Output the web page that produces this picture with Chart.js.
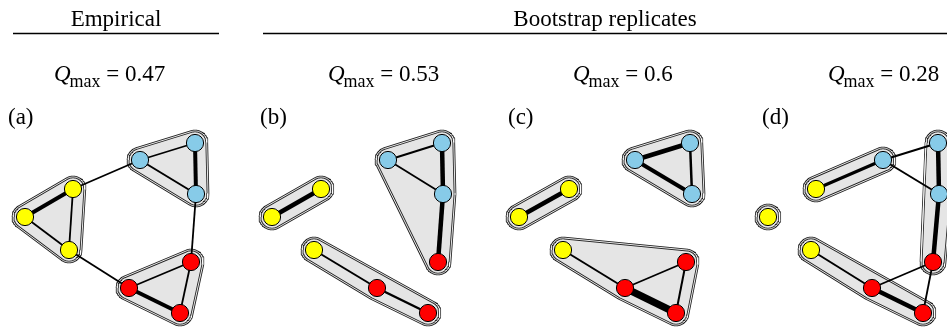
<!DOCTYPE html>
<html>
<head>
<meta charset="utf-8">
<script src="https://cdn.jsdelivr.net/npm/chart.js@4.4.1/dist/chart.umd.min.js"></script>
<style>
  html, body { margin: 0; padding: 0; background: #fff; }
  canvas { display: block; }
</style>
</head>
<body>
<canvas id="net" width="947" height="329"></canvas>
<script>
// Community colours
const communityColors = { Y: '#ffff00', B: '#87cbe8', R: '#ff0000' };

// Node layouts per panel: [x, y, community]
const nodesA = [[73,189,'Y'],[25,217,'Y'],[69,250,'Y'],[140,160,'B'],[195,143,'B'],[196,194,'B'],[191,262,'R'],[129,288,'R'],[180,313,'R']];
const nodesB = [[321,189,'Y'],[272,217,'Y'],[388,160,'B'],[442,143,'B'],[443,194,'B'],[438,262,'R'],[314,250,'Y'],[377,288,'R'],[428,313,'R']];
const nodesC = [[569,189,'Y'],[519,217,'Y'],[635,160,'B'],[690,143,'B'],[692,194,'B'],[563,250,'Y'],[625,288,'R'],[686,262,'R'],[676,313,'R']];
const nodesD = [[768,217,'Y'],[816,189,'Y'],[883,160,'B'],[938,143,'B'],[939,194,'B'],[933,262,'R'],[811,250,'Y'],[872,288,'R'],[923,313,'R']];

// Edges per panel: [from, to, weight]
const edgesA = [[0,1,4],[1,2,1.8],[0,2,1.8],[3,4,1.8],[3,5,2],[4,5,4],[6,7,1.8],[7,8,4],[6,8,1.8],[0,3,1.8],[2,7,1.8],[5,6,1.8]];
const edgesB = [[0,1,4.5],[2,3,2],[2,4,1.8],[3,4,4.5],[4,5,4.5],[6,7,2],[7,8,2.5]];
const edgesC = [[0,1,4.5],[2,3,4.5],[2,4,4],[3,4,2.5],[5,6,2],[6,7,1.8],[6,8,7.5],[7,8,2]];
const edgesD = [[1,2,3.2],[2,3,2],[2,4,2],[3,4,4.5],[4,5,4.5],[6,7,2],[7,8,4.5],[7,5,1.8],[5,8,1.8]];

// Detected communities per panel (node indices)
const groupsA = [[0,1,2],[3,4,5],[6,7,8]];
const groupsB = [[0,1],[2,3,4,5],[6,7,8]];
const groupsC = [[0,1],[2,3,4],[5,6,7,8]];
const groupsD = [[0],[1,2],[3,4,5],[6,7,8]];

// Panel annotations
const panelLabels = ['(a)', '(b)', '(c)', '(d)'];
const qmaxValues = [0.47, 0.53, 0.6, 0.28];
const headings = ['Empirical', 'Bootstrap replicates'];

const panels = [
  { nodes: nodesA, edges: edgesA, groups: groupsA },
  { nodes: nodesB, edges: edgesB, groups: groupsB },
  { nodes: nodesC, edges: edgesC, groups: groupsC },
  { nodes: nodesD, edges: edgesD, groups: groupsD }
];

// Rounded hull around a set of nodes: convex hull of discs centred on the nodes
function roundedHull(points, r) {
  const cloud = [];
  const n = 72;
  points.forEach(([x, y]) => {
    for (let k = 0; k < n; k++) {
      const a = (k + 0.5) / n * 2 * Math.PI;
      cloud.push([x + r * Math.cos(a), y + r * Math.sin(a)]);
    }
  });
  cloud.sort((a, b) => a[0] - b[0] || a[1] - b[1]);
  const cross = (o, a, b) => (a[0] - o[0]) * (b[1] - o[1]) - (a[1] - o[1]) * (b[0] - o[0]);
  const lower = [], upper = [];
  for (const p of cloud) {
    while (lower.length >= 2 && cross(lower[lower.length - 2], lower[lower.length - 1], p) <= 1e-9) lower.pop();
    lower.push(p);
  }
  for (let i = cloud.length - 1; i >= 0; i--) {
    const p = cloud[i];
    while (upper.length >= 2 && cross(upper[upper.length - 2], upper[upper.length - 1], p) <= 1e-9) upper.pop();
    upper.push(p);
  }
  upper.pop(); lower.pop();
  const h = lower.concat(upper);
  h.push(h[0], h[1]);
  return h.map(([x, y]) => ({ x, y }));
}

const HULL_R = 12;
const datasets = [];

panels.forEach(p => {
  // community hulls
  p.groups.forEach(g => {
    const outline = roundedHull(g.map(i => p.nodes[i]), HULL_R);
    datasets.push({
      type: 'line', data: outline, order: 40,
      borderColor: '#222', borderWidth: 2.7, backgroundColor: '#e5e5e5',
      borderJoinStyle: 'round', borderCapStyle: 'round',
      fill: 'shape', pointRadius: 0, tension: 0
    });
    datasets.push({
      type: 'line', data: outline, order: 30,
      borderColor: '#ffffff', borderWidth: 0.9, fill: false,
      borderJoinStyle: 'round', borderCapStyle: 'round',
      pointRadius: 0, tension: 0
    });
  });
  // weighted edges
  p.edges.forEach(([a, b, w]) => {
    datasets.push({
      type: 'line', order: 20,
      data: [{ x: p.nodes[a][0], y: p.nodes[a][1] }, { x: p.nodes[b][0], y: p.nodes[b][1] }],
      borderColor: '#000', borderWidth: w, fill: false, pointRadius: 0, tension: 0
    });
  });
  // nodes
  datasets.push({
    type: 'scatter', order: 10,
    data: p.nodes.map(([x, y]) => ({ x, y })),
    pointBackgroundColor: p.nodes.map(n => communityColors[n[2]]),
    pointBorderColor: '#000', pointBorderWidth: 1, pointRadius: 8.6
  });
});

const SERIF = '"Liberation Serif", "DejaVu Serif", serif';

// Headings, rules, panel letters and modularity values
const annotations = {
  id: 'annotations',
  afterDraw(chart) {
    const { ctx, scales: { x, y } } = chart;
    const px = v => x.getPixelForValue(v);
    const py = v => y.getPixelForValue(v);
    ctx.save();
    ctx.fillStyle = '#000';
    ctx.strokeStyle = '#000';
    ctx.textBaseline = 'alphabetic';

    // column headings with rules
    ctx.font = '23px ' + SERIF;
    ctx.textAlign = 'center';
    ctx.fillText(headings[0], px(116), py(26));
    ctx.fillText(headings[1], px(605), py(26));
    ctx.lineWidth = 1.4;
    ctx.beginPath();
    ctx.moveTo(px(13), py(33.5)); ctx.lineTo(px(219), py(33.5));
    ctx.moveTo(px(263), py(33.5)); ctx.lineTo(px(947), py(33.5));
    ctx.stroke();

    // Q_max per panel
    const qx = [54, 328, 573, 828];
    ctx.textAlign = 'left';
    qmaxValues.forEach((v, i) => {
      let cx = px(qx[i]);
      const base = py(81);
      ctx.font = 'italic 23px ' + SERIF;
      ctx.fillText('Q', cx, base);
      cx += ctx.measureText('Q').width - 1;
      ctx.font = '18px ' + SERIF;
      ctx.fillText('max', cx, base + 6);
      cx += ctx.measureText('max').width;
      ctx.font = '23px ' + SERIF;
      ctx.fillText(' = ' + v, cx, base);
    });

    // panel letters
    const lx = [8, 260, 508, 762];
    ctx.font = '23px ' + SERIF;
    panelLabels.forEach((t, i) => ctx.fillText(t, px(lx[i]), py(124)));
    ctx.restore();
  }
};

new Chart(document.getElementById('net'), {
  type: 'scatter',
  data: { datasets },
  options: {
    responsive: false,
    animation: false,
    events: [],
    layout: { padding: 0, autoPadding: false },
    scales: {
      x: { type: 'linear', min: 0, max: 947, display: false },
      y: { type: 'linear', min: 0, max: 329, reverse: true, display: false }
    },
    plugins: { legend: { display: false }, tooltip: { enabled: false } }
  },
  plugins: [annotations]
});
</script>
</body>
</html>
